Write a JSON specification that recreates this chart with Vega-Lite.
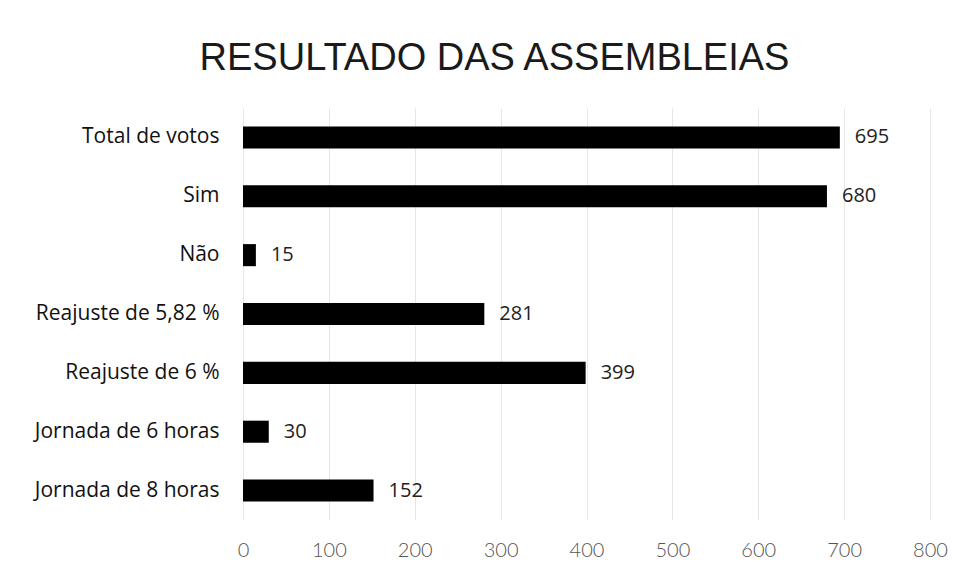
{
  "$schema": "https://vega.github.io/schema/vega-lite/v6.json",
  "width": 687,
  "height": 412,
  "autosize": {"type": "none"},
  "padding": {"left": 243, "top": 108, "right": 39, "bottom": 57},
  "background": "white",
  "title": {
    "text": "RESULTADO DAS ASSEMBLEIAS",
    "font": "Liberation Sans",
    "fontSize": 38,
    "fontWeight": "normal",
    "color": "#1a1a1a",
    "anchor": "middle",
    "dx": -92,
    "offset": 30
  },
  "data": {
    "values": [
      {"categoria": "Total de votos", "votos": 695},
      {"categoria": "Sim", "votos": 680},
      {"categoria": "Não", "votos": 15},
      {"categoria": "Reajuste de 5,82 %", "votos": 281},
      {"categoria": "Reajuste de 6 %", "votos": 399},
      {"categoria": "Jornada de 6 horas", "votos": 30},
      {"categoria": "Jornada de 8 horas", "votos": 152}
    ]
  },
  "encoding": {
    "y": {
      "field": "categoria",
      "type": "nominal",
      "sort": null,
      "title": null,
      "scale": {"paddingInner": 0.625, "paddingOuter": 0.3125},
      "axis": {
        "ticks": false,
        "domain": false,
        "labelPadding": 24,
        "labelFont": "Open Sans",
        "labelFontSize": 21,
        "labelColor": "#111111",
        "labelLimit": 300
      }
    },
    "x": {
      "field": "votos",
      "type": "quantitative",
      "title": null,
      "scale": {"domain": [0, 800], "nice": false},
      "axis": {
        "values": [0, 100, 200, 300, 400, 500, 600, 700, 800],
        "ticks": false,
        "domain": false,
        "grid": true,
        "gridColor": "#e6e6e6",
        "gridWidth": 1,
        "labelFlush": false,
        "labelPadding": 20,
        "labelFont": "Lato",
        "labelFontWeight": 300,
        "labelFontSize": 20,
        "labelColor": "#555555"
      }
    }
  },
  "layer": [
    {"mark": {"type": "bar", "color": "#000000"}},
    {
      "mark": {
        "type": "text",
        "align": "left",
        "baseline": "middle",
        "dx": 15,
        "font": "Open Sans",
        "fontSize": 20,
        "color": "#222222"
      },
      "encoding": {"text": {"field": "votos", "type": "quantitative"}}
    }
  ],
  "config": {"view": {"stroke": null}}
}
